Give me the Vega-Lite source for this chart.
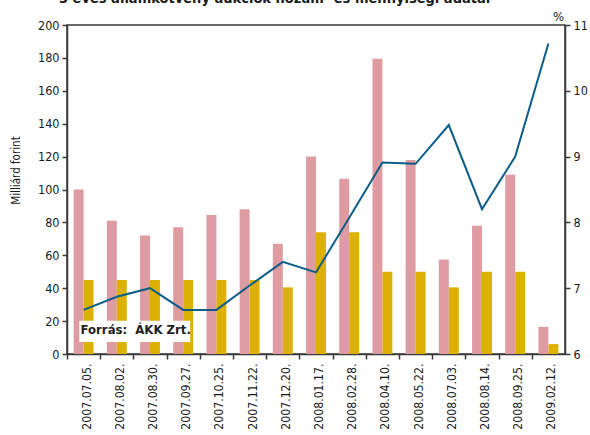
{
  "$schema": "https://vega.github.io/schema/vega-lite/v6.json",
  "width": 498,
  "height": 329,
  "autosize": {"type": "none"},
  "padding": {"left": 67, "top": 25, "right": 25, "bottom": 81},
  "background": "white",
  "config": {
    "font": "Liberation Sans Narrow, DejaVu Sans Condensed, Roboto Condensed, Roboto, sans-serif",
    "view": {"stroke": "#3a3a3a", "strokeWidth": 1.5},
    "axis": {
      "domainColor": "#3a3a3a",
      "tickColor": "#3a3a3a",
      "labelColor": "#1a1a1a",
      "titleColor": "#1a1a1a",
      "grid": false,
      "labelFont": "Liberation Sans Narrow, DejaVu Sans Condensed, Roboto Condensed, Roboto, sans-serif",
      "titleFont": "Liberation Sans Narrow, DejaVu Sans Condensed, Roboto Condensed, Roboto, sans-serif",
      "domainWidth": 1.5,
      "tickWidth": 1.5
    }
  },
  "title": {
    "text": "3 éves államkötvény aukciók hozam- és mennyiségi adatai",
    "anchor": "start",
    "frame": "group",
    "dx": -8,
    "offset": -7,
    "baseline": "alphabetic",
    "fontSize": 14.5,
    "fontWeight": "bold",
    "font": "Liberation Sans Narrow, DejaVu Sans Condensed, Roboto Condensed, Roboto, sans-serif",
    "color": "#1a1a1a"
  },
  "datasets": {
    "bars": [
      {"date": "2007.07.05.", "series": "Benyújtott ajánlatok", "value": 100},
      {"date": "2007.07.05.", "series": "Meghirdetett mennyiség", "value": 45},
      {"date": "2007.08.02.", "series": "Benyújtott ajánlatok", "value": 81},
      {"date": "2007.08.02.", "series": "Meghirdetett mennyiség", "value": 45},
      {"date": "2007.08.30.", "series": "Benyújtott ajánlatok", "value": 72},
      {"date": "2007.08.30.", "series": "Meghirdetett mennyiség", "value": 45},
      {"date": "2007.09.27.", "series": "Benyújtott ajánlatok", "value": 77},
      {"date": "2007.09.27.", "series": "Meghirdetett mennyiség", "value": 45},
      {"date": "2007.10.25.", "series": "Benyújtott ajánlatok", "value": 84.5},
      {"date": "2007.10.25.", "series": "Meghirdetett mennyiség", "value": 45},
      {"date": "2007.11.22.", "series": "Benyújtott ajánlatok", "value": 88},
      {"date": "2007.11.22.", "series": "Meghirdetett mennyiség", "value": 45},
      {"date": "2007.12.20.", "series": "Benyújtott ajánlatok", "value": 67},
      {"date": "2007.12.20.", "series": "Meghirdetett mennyiség", "value": 40.5},
      {"date": "2008.01.17.", "series": "Benyújtott ajánlatok", "value": 120},
      {"date": "2008.01.17.", "series": "Meghirdetett mennyiség", "value": 74},
      {"date": "2008.02.28.", "series": "Benyújtott ajánlatok", "value": 106.5},
      {"date": "2008.02.28.", "series": "Meghirdetett mennyiség", "value": 74},
      {"date": "2008.04.10.", "series": "Benyújtott ajánlatok", "value": 179.5},
      {"date": "2008.04.10.", "series": "Meghirdetett mennyiség", "value": 50},
      {"date": "2008.05.22.", "series": "Benyújtott ajánlatok", "value": 118},
      {"date": "2008.05.22.", "series": "Meghirdetett mennyiség", "value": 50},
      {"date": "2008.07.03.", "series": "Benyújtott ajánlatok", "value": 57.5},
      {"date": "2008.07.03.", "series": "Meghirdetett mennyiség", "value": 40.5},
      {"date": "2008.08.14.", "series": "Benyújtott ajánlatok", "value": 78},
      {"date": "2008.08.14.", "series": "Meghirdetett mennyiség", "value": 50},
      {"date": "2008.09.25.", "series": "Benyújtott ajánlatok", "value": 109},
      {"date": "2008.09.25.", "series": "Meghirdetett mennyiség", "value": 50},
      {"date": "2009.02.12.", "series": "Benyújtott ajánlatok", "value": 16.5},
      {"date": "2009.02.12.", "series": "Meghirdetett mennyiség", "value": 6}
    ],
    "yield": [
      {"date": "2007.07.05.", "yield": 6.67},
      {"date": "2007.08.02.", "yield": 6.87},
      {"date": "2007.08.30.", "yield": 7.0},
      {"date": "2007.09.27.", "yield": 6.67},
      {"date": "2007.10.25.", "yield": 6.67},
      {"date": "2007.11.22.", "yield": 7.04},
      {"date": "2007.12.20.", "yield": 7.4},
      {"date": "2008.01.17.", "yield": 7.24},
      {"date": "2008.02.28.", "yield": 8.07},
      {"date": "2008.04.10.", "yield": 8.91},
      {"date": "2008.05.22.", "yield": 8.89},
      {"date": "2008.07.03.", "yield": 9.48},
      {"date": "2008.08.14.", "yield": 8.2},
      {"date": "2008.09.25.", "yield": 9.0},
      {"date": "2009.02.12.", "yield": 10.72}
    ],
    "note": [
      {"label": "Forrás:\u00a0 ÁKK Zrt.", "x": 2.07, "y": 14.6, "x0": 0.37, "x1": 3.71, "y0": 7.3, "y1": 20.2}
    ]
  },
  "layer": [
    {
      "layer": [
        {
          "data": {"name": "bars"},
          "mark": {"type": "bar"},
          "encoding": {
            "x": {
              "field": "date",
              "type": "nominal",
              "sort": null,
              "scale": {"paddingInner": 0.4, "paddingOuter": 0.2},
              "axis": {
                "title": null,
                "labelAngle": -90,
                "labelFontSize": 12.2,
                "tickSize": 5,
                "tickOffset": -16.6,
                "labelOffset": 19,
                "labelPadding": 4
              }
            },
            "xOffset": {
              "field": "series",
              "type": "nominal",
              "sort": ["Benyújtott ajánlatok", "Meghirdetett mennyiség"],
              "scale": {"paddingInner": 0}
            },
            "y": {
              "field": "value",
              "type": "quantitative",
              "scale": {"domain": [0, 200], "nice": false},
              "axis": {
                "title": "Milliárd forint",
                "titleFontSize": 11.5,
                "titleFontWeight": "normal",
                "titleX": -46,
                "titleY": 145,
                "values": [0, 20, 40, 60, 80, 100, 120, 140, 160, 180, 200],
                "labelFontSize": 12.5,
                "tickSize": 5,
                "labelPadding": 3
              }
            },
            "color": {
              "field": "series",
              "type": "nominal",
              "scale": {
                "domain": ["Benyújtott ajánlatok", "Meghirdetett mennyiség"],
                "range": ["#de9ca2", "#dcb005"]
              },
              "legend": null
            }
          }
        },
        {
          "data": {"name": "yield"},
          "mark": {"type": "line", "color": "#0b5e87", "strokeWidth": 2},
          "encoding": {
            "x": {"field": "date", "type": "nominal", "sort": null},
            "y": {
              "field": "yield",
              "type": "quantitative",
              "scale": {"domain": [6, 11], "nice": false, "zero": false},
              "axis": {
                "orient": "right",
                "title": "%",
                "titleAngle": 0,
                "titleX": -7,
                "titleY": -5,
                "titleAlign": "center",
                "titleBaseline": "alphabetic",
                "titleFontSize": 13,
                "titleFontWeight": "normal",
                "values": [6, 7, 8, 9, 10, 11],
                "labelFontSize": 12.5,
                "tickSize": 5,
                "labelPadding": 3
              }
            }
          }
        }
      ],
      "resolve": {"scale": {"y": "independent"}}
    },
    {
      "data": {"name": "note"},
      "layer": [
        {
          "mark": {"type": "rect", "color": "white"},
          "encoding": {
            "x": {"field": "x0", "type": "quantitative", "scale": {"domain": [0, 15], "nice": false, "zero": false}, "axis": null},
            "x2": {"field": "x1"},
            "y": {"field": "y0", "type": "quantitative", "scale": {"domain": [0, 200], "nice": false}, "axis": null},
            "y2": {"field": "y1"}
          }
        },
        {
          "mark": {"type": "text", "align": "center", "baseline": "middle", "fontWeight": "bold", "fontSize": 13, "color": "#222222"},
          "encoding": {
            "x": {"field": "x", "type": "quantitative"},
            "y": {"field": "y", "type": "quantitative"},
            "text": {"field": "label"}
          }
        }
      ]
    }
  ],
  "resolve": {"scale": {"x": "independent", "y": "independent"}}
}
